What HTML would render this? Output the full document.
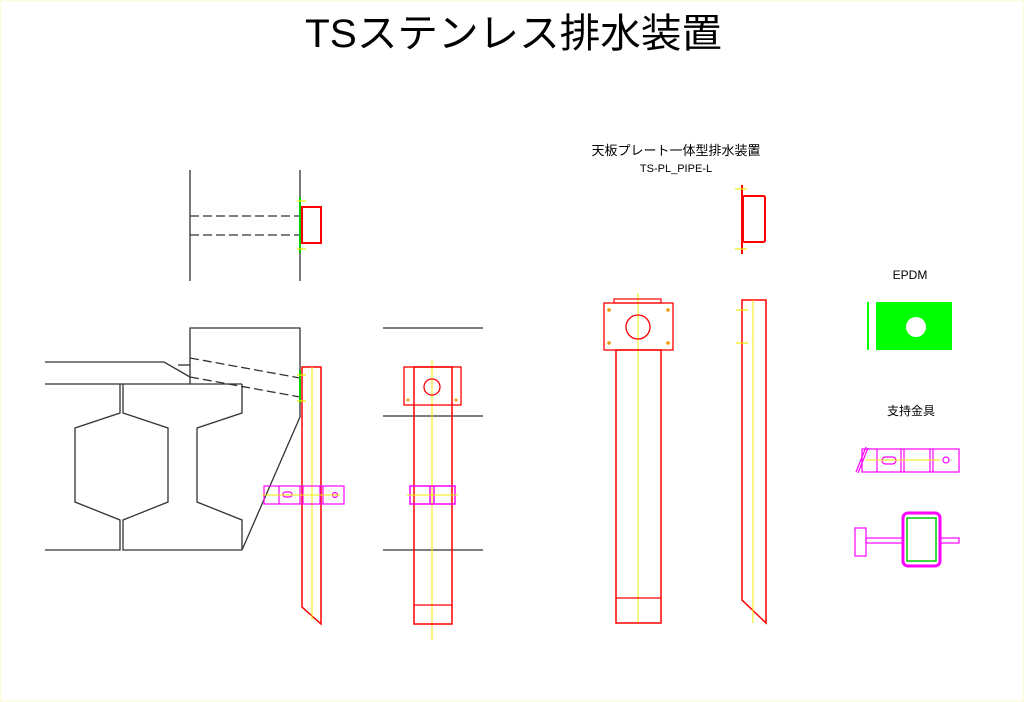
<!DOCTYPE html>
<html><head><meta charset="utf-8"><style>
html,body{margin:0;padding:0;background:#fff}
svg{display:block}
text{font-family:"Liberation Sans","Noto Sans CJK JP",sans-serif;fill:#000}
</style></head><body>
<svg width="1024" height="702" viewBox="0 0 1024 702" xmlns="http://www.w3.org/2000/svg">
<rect x="0" y="0" width="1024" height="702" fill="#fff" stroke="#fbfbe0" stroke-width="3"/>
<text x="305" y="47" font-size="40" textLength="417" lengthAdjust="spacingAndGlyphs">TSステンレス排水装置</text>

<g stroke="#333" stroke-width="1.3" fill="none">
<!-- top plan -->
<line x1="190" y1="170" x2="190" y2="281"/>
<line x1="300" y1="170" x2="300" y2="281"/>
<line x1="190" y1="216" x2="300" y2="216" stroke-dasharray="9,4"/>
<line x1="190" y1="235" x2="300" y2="235" stroke-dasharray="9,4"/>
<!-- section -->
<polyline points="190,384 190,328 300,328 300,417 242,550"/>
<polyline points="45,362 164,362 190,377"/>
<line x1="178" y1="365" x2="190" y2="365"/>
<line x1="45" y1="384" x2="242" y2="384"/>
<line x1="190" y1="358" x2="300" y2="378" stroke-dasharray="9,4"/>
<line x1="190" y1="377" x2="300" y2="397" stroke-dasharray="9,4"/>
<polyline points="120,384 120,413 75,428 75,502 120,520 120,550 45,550"/>
<polyline points="123,384 123,413 168,428 168,502 123,520 123,550 242,550"/>
<polyline points="242,384 242,413 197,428 197,502 242,520 242,550"/>
<!-- front lines -->
<line x1="383" y1="328" x2="483" y2="328"/>
<line x1="383" y1="416" x2="483" y2="416"/>
<line x1="383" y1="550" x2="483" y2="550"/>
</g>

<!-- top plan pipe -->
<line x1="300" y1="197" x2="300" y2="253" stroke="#0c0" stroke-width="2"/>
<rect x="302" y="207" width="19" height="36" fill="none" stroke="#f00" stroke-width="2"/>
<g stroke="#ee0" stroke-width="1.2"><line x1="297" y1="201" x2="306" y2="201"/><line x1="297" y1="249" x2="306" y2="249"/></g>

<!-- section pipe -->
<line x1="300" y1="370" x2="300" y2="403" stroke="#0c0" stroke-width="2"/>
<polygon points="302,367 321,367 321,624 302,607" fill="none" stroke="#f00" stroke-width="1.5"/>
<line x1="312" y1="367" x2="312" y2="620" stroke="#ee0" stroke-width="1"/>
<g stroke="#ee0" stroke-width="1.2"><line x1="297" y1="375" x2="306" y2="375"/><line x1="297" y1="401" x2="306" y2="401"/></g>
<g stroke="#f0f" stroke-width="1.2" fill="none">
<rect x="264" y="486" width="80" height="18"/>
<line x1="279" y1="486" x2="279" y2="504"/><line x1="300" y1="486" x2="300" y2="504"/><line x1="303" y1="486" x2="303" y2="504"/>
<line x1="320" y1="486" x2="320" y2="504"/><line x1="323" y1="486" x2="323" y2="504"/>
<rect x="283" y="492" width="9" height="5" rx="2.5"/>
<circle cx="335" cy="495" r="2.5"/>
</g>
<line x1="262" y1="495" x2="340" y2="495" stroke="#ee0" stroke-width="1"/>

<!-- front pipe -->
<line x1="432" y1="360" x2="432" y2="640" stroke="#ee0" stroke-width="1"/>
<rect x="404" y="367" width="57" height="38" fill="none" stroke="#f00" stroke-width="1.3"/>
<circle cx="432" cy="387" r="8" fill="none" stroke="#f00" stroke-width="1.3"/>
<rect x="414" y="367" width="38" height="257" fill="none" stroke="#f00" stroke-width="1.5"/>
<line x1="414" y1="605" x2="452" y2="605" stroke="#f00" stroke-width="1.2"/>
<g fill="#e90"><circle cx="408" cy="400" r="1.5"/><circle cx="456" cy="400" r="1.5"/></g>
<g stroke="#f0f" stroke-width="1.5" fill="none">
<rect x="410" y="486" width="45" height="18"/>
<line x1="430" y1="486" x2="430" y2="504"/><line x1="434" y1="486" x2="434" y2="504"/>
</g>
<line x1="407" y1="495" x2="458" y2="495" stroke="#ee0" stroke-width="1"/>

<!-- middle -->
<text x="676" y="155" font-size="13" text-anchor="middle">天板プレート一体型排水装置</text>
<text x="676" y="172" font-size="11" text-anchor="middle">TS-PL_PIPE-L</text>
<line x1="638" y1="293" x2="638" y2="623" stroke="#ee0" stroke-width="1"/>
<rect x="614" y="299" width="47" height="4" fill="none" stroke="#f00" stroke-width="1.2"/>
<rect x="604" y="303" width="69" height="47" fill="none" stroke="#f00" stroke-width="1.3"/>
<circle cx="638" cy="327" r="12" fill="none" stroke="#f00" stroke-width="1.3"/>
<rect x="616" y="350" width="45" height="273" fill="none" stroke="#f00" stroke-width="1.5"/>
<line x1="616" y1="598" x2="661" y2="598" stroke="#f00" stroke-width="1.2"/>
<g fill="#e90"><circle cx="609" cy="310" r="1.8"/><circle cx="668" cy="310" r="1.8"/><circle cx="609" cy="343" r="1.8"/><circle cx="668" cy="343" r="1.8"/></g>

<line x1="742" y1="185" x2="742" y2="254" stroke="#f00" stroke-width="2"/>
<rect x="743" y="196" width="22" height="46" rx="1.5" fill="none" stroke="#f00" stroke-width="2"/>
<g stroke="#ee0" stroke-width="1.2"><line x1="735" y1="189" x2="747" y2="189"/><line x1="735" y1="249" x2="747" y2="249"/></g>
<polygon points="742,300 766,300 766,623 742,600" fill="none" stroke="#f00" stroke-width="1.5"/>
<line x1="753" y1="300" x2="753" y2="623" stroke="#ee0" stroke-width="1"/>
<g stroke="#ee0" stroke-width="1.2"><line x1="736" y1="310" x2="748" y2="310"/><line x1="736" y1="343" x2="748" y2="343"/></g>

<!-- EPDM -->
<text x="910" y="279" font-size="12" text-anchor="middle">EPDM</text>
<rect x="876" y="302" width="76" height="48" fill="#0f0"/>
<circle cx="916" cy="327" r="10" fill="#fff"/>
<line x1="868" y1="302" x2="868" y2="350" stroke="#0f0" stroke-width="2"/>

<text x="911" y="415" font-size="12" text-anchor="middle">支持金具</text>
<g stroke="#f0f" stroke-width="1.2" fill="none">
<rect x="862" y="449" width="97" height="23"/>
<line x1="856" y1="472" x2="866" y2="447"/><line x1="858" y1="473" x2="868" y2="448"/>
<line x1="877" y1="449" x2="877" y2="472"/><line x1="901" y1="449" x2="901" y2="472"/><line x1="904" y1="449" x2="904" y2="472"/>
<line x1="930" y1="449" x2="930" y2="472"/><line x1="933" y1="449" x2="933" y2="472"/>
<rect x="882" y="457" width="14" height="7" rx="3.5"/>
<circle cx="946" cy="460" r="3"/>
<rect x="855" y="528" width="11" height="28"/>
<rect x="866" y="538" width="37" height="5"/>
<rect x="940" y="538" width="19" height="5"/>
<rect x="903" y="513" width="37" height="53" rx="5" stroke-width="3"/>
</g>
<rect x="907" y="518" width="29" height="43" fill="none" stroke="#0c0" stroke-width="1.5"/>
<line x1="866" y1="460" x2="940" y2="460" stroke="#ee0" stroke-width="1"/>
</svg>
</body></html>
